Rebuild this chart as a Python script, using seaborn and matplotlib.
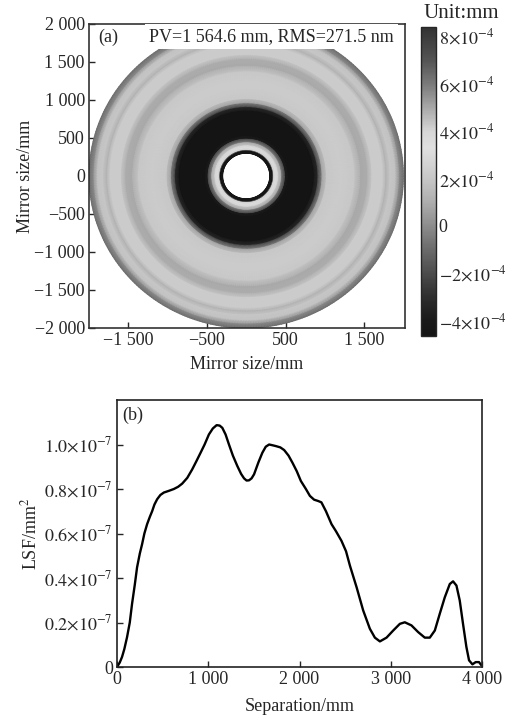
import numpy as np
import pandas as pd
import matplotlib
matplotlib.use('Agg')
import matplotlib.pyplot as plt
from matplotlib.colors import LinearSegmentedColormap
import seaborn as sns

# 面形误差径向分布 (mm)，单位 1e-4 mm
radius_mm = [300, 338, 352, 375, 410, 450, 500, 540, 860, 910, 965, 1020,
             1200, 1380, 1460, 1540, 1600, 1740, 1780, 1830, 1900, 1950, 2000]
surface_e4 = [-4.5, -4.5, 2.5, 3.3, 2.4, 0.3, -3.8, -4.6, -4.6, -3.0, 0.5, 2.0,
              2.3, 2.0, 0.9, 1.0, 2.2, 2.2, 1.2, 2.0, 1.8, 0.0, -1.0]

# LSF 曲线
separation = [0, 30, 55, 80, 110, 140, 165, 195, 220, 250, 275, 300, 330, 360,
              385, 410, 440, 475, 513, 570, 623, 670, 714, 770, 824, 870, 916,
              960, 1007, 1050, 1092, 1125, 1154, 1190, 1227, 1270, 1319, 1360,
              1392, 1420, 1447, 1475, 1502, 1550, 1593, 1630, 1667, 1700, 1740,
              1790, 1832, 1880, 1923, 1970, 2015, 2070, 2114, 2160, 2205, 2240,
              2290, 2351, 2400, 2460, 2510, 2553, 2626, 2698, 2771, 2826, 2881,
              2954, 3027, 3100, 3154, 3227, 3300, 3373, 3428, 3483, 3537, 3592,
              3647, 3683, 3720, 3756, 3792, 3829, 3858, 3895, 3931, 3967, 3993]
lsf_e7 = [0, 0.02, 0.045, 0.08, 0.134, 0.20, 0.284, 0.37, 0.448, 0.51, 0.552,
          0.60, 0.642, 0.675, 0.70, 0.73, 0.754, 0.773, 0.784, 0.792, 0.80,
          0.81, 0.824, 0.85, 0.888, 0.925, 0.963, 1.0, 1.045, 1.072, 1.087,
          1.085, 1.075, 1.045, 1.0, 0.95, 0.903, 0.868, 0.848, 0.838, 0.839,
          0.848, 0.866, 0.92, 0.963, 0.99, 1.0, 0.997, 0.993, 0.987, 0.975,
          0.95, 0.918, 0.88, 0.836, 0.80, 0.769, 0.752, 0.746, 0.74, 0.70,
          0.642, 0.61, 0.567, 0.52, 0.455, 0.358, 0.254, 0.172, 0.132, 0.115,
          0.132, 0.164, 0.194, 0.201, 0.187, 0.157, 0.132, 0.132, 0.164, 0.239,
          0.313, 0.373, 0.385, 0.366, 0.299, 0.194, 0.090, 0.030, 0.012, 0.022,
          0.022, 0.008]

cbar_ticks = [-4e-4, -2e-4, 0, 2e-4, 4e-4, 6e-4, 8e-4]
cbar_labels = [r'$-4{\times}10^{-4}$', r'$-2{\times}10^{-4}$', '0',
               r'$2{\times}10^{-4}$', r'$4{\times}10^{-4}$',
               r'$6{\times}10^{-4}$', r'$8{\times}10^{-4}$']
mirror_ticks = [-1500, -500, 500, 1500]
mirror_tick_labels = ['\u22121 500', '\u2212500', '500', '1 500']
mirror_yticks = [-2000, -1500, -1000, -500, 0, 500, 1000, 1500, 2000]
mirror_ytick_labels = ['\u22122 000', '\u22121 500', '\u22121 000',
                       '\u2212500', '0', '500', '1 000', '1 500', '2 000']
sep_ticks = [0, 1000, 2000, 3000, 4000]
sep_tick_labels = ['0', '1 000', '2 000', '3 000', '4 000']
lsf_ticks = [0, 0.2e-7, 0.4e-7, 0.6e-7, 0.8e-7, 1.0e-7]
lsf_tick_labels = ['0', r'$0.2{\times}10^{-7}$', r'$0.4{\times}10^{-7}$',
                   r'$0.6{\times}10^{-7}$', r'$0.8{\times}10^{-7}$',
                   r'$1.0{\times}10^{-7}$']

sns.set_style('ticks')
plt.rcParams['font.family'] = ['Liberation Serif', 'DejaVu Serif']
plt.rcParams['mathtext.fontset'] = 'stix'
plt.rcParams['font.size'] = 13
plt.rcParams['axes.unicode_minus'] = True

FS = 13
vmin, vmax = -4.65e-4, 8.4e-4
# 灰度色标（原图为彩色色标的灰度版本）
gray_pts = [(-4.65, 0.08), (-4.0, 0.10), (-3.0, 0.18), (-2.0, 0.30), (-1.0, 0.42),
            (0.0, 0.55), (1.0, 0.68), (2.0, 0.78), (3.3, 0.88), (4.0, 0.84),
            (5.0, 0.66), (6.0, 0.48), (7.0, 0.33), (8.4, 0.20)]
span = 8.4 + 4.65
cmap = LinearSegmentedColormap.from_list(
    'surf_gray', [((v + 4.65) / span, (g, g, g)) for v, g in gray_pts])

fig = plt.figure(figsize=(5.12, 7.18), dpi=100)
ax1 = fig.add_axes([89 / 512, 1 - 328 / 718, 316 / 512, 304 / 718])
cax = fig.add_axes([421 / 512, 1 - 336 / 718, 15 / 512, 309 / 718])
ax2 = fig.add_axes([117 / 512, 1 - 667 / 718, 365 / 512, 267 / 718])

# (a) 面形分布
r = np.array(radius_mm, dtype=float)
theta = np.linspace(0, 2 * np.pi, 361)
X = r[:, None] * np.cos(theta)[None, :]
Y = r[:, None] * np.sin(theta)[None, :]
C = np.repeat(np.array(surface_e4)[:, None] * 1e-4, theta.size, axis=1)
mesh = ax1.pcolormesh(X, Y, C, cmap=cmap, vmin=vmin, vmax=vmax,
                      shading='gouraud', rasterized=True)
ax1.set_xlim(-2000, 2020)
ax1.set_ylim(-2000, 2000)
ax1.set_xticks(mirror_ticks)
ax1.set_xticklabels(mirror_tick_labels)
ax1.set_yticks(mirror_yticks)
ax1.set_yticklabels(mirror_ytick_labels)
ax1.tick_params(direction='in', length=4, width=1, labelsize=FS, pad=3)
ax1.set_xlabel('Mirror size/mm', fontsize=FS, labelpad=5)
ax1.set_ylabel('Mirror size/mm', fontsize=FS, labelpad=0)
for s in ax1.spines.values():
    s.set_linewidth(1.2)
    s.set_color('#333333')
ax1.text(-1880, 1830, '(a)', fontsize=FS, va='center', ha='left', zorder=5)
ax1.text(1880, 1830, 'PV=1 564.6 mm, RMS=271.5 nm', fontsize=FS,
         va='center', ha='right', zorder=5,
         bbox=dict(boxstyle='square,pad=0.22', fc='white', ec='none'))

cb = fig.colorbar(mesh, cax=cax, ticks=cbar_ticks)
cb.ax.set_yticklabels(cbar_labels)
cb.ax.tick_params(direction='in', length=4, width=1, labelsize=FS, pad=2)
cb.outline.set_linewidth(1.0)
fig.text(423 / 512, 1 - 14 / 718, 'Unit:mm', fontsize=15, ha='left', va='center')

# (b) LSF 曲线
df = pd.DataFrame({'sep': separation, 'lsf': np.array(lsf_e7) * 1e-7})
sns.lineplot(data=df, x='sep', y='lsf', ax=ax2, color='black', linewidth=1.7)
ax2.set_xlim(0, 4000)
ax2.set_ylim(0, 1.2e-7)
ax2.set_xticks(sep_ticks)
ax2.set_xticklabels(sep_tick_labels)
ax2.set_yticks(lsf_ticks)
ax2.set_yticklabels(lsf_tick_labels)
ax2.tick_params(direction='in', length=4, width=1, labelsize=FS, pad=3)
ax2.set_xlabel('Separation/mm', fontsize=FS, labelpad=7)
ax2.set_ylabel(r'LSF/mm$^2$', fontsize=FS, labelpad=3)
for s in ax2.spines.values():
    s.set_linewidth(1.2)
    s.set_color('#222222')
ax2.text(60, 1.13e-7, '(b)', fontsize=FS, va='center', ha='left')

fig.savefig('out.png', dpi=100)
